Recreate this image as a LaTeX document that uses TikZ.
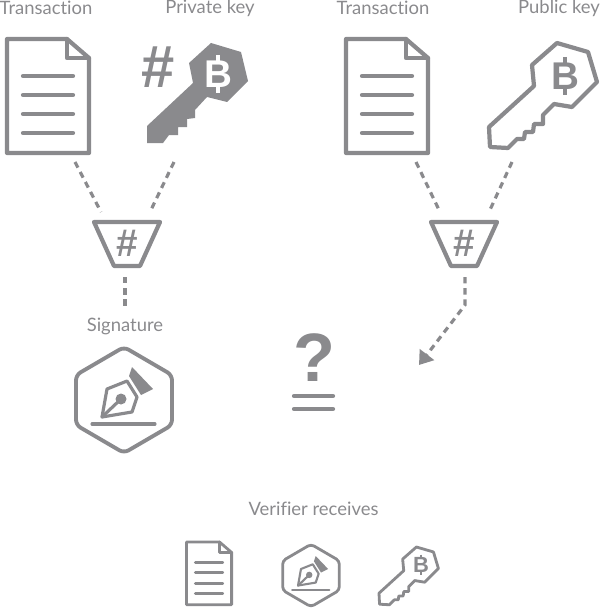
\documentclass[tikz,border=0pt]{standalone}
\usepackage{fontspec}
\setmainfont{Lato}[Ligatures=CommonOff]
\newfontfamily\iconfont{Liberation Sans}
\usetikzlibrary{arrows.meta}
\definecolor{icongray}{HTML}{8A8A8D}
\tikzset{
    label/.style={text=icongray, font=\fontsize{10.5pt}{12pt}\selectfont},
    outline/.style={draw=icongray, line width=#1, line join=round, line cap=round},
    outline/.default=2.4pt,
    link/.style={draw=icongray, line width=1.8pt, dash pattern=on 3.6pt off 2.8pt},
    hash/.style={text=icongray, inner sep=0pt, font=\iconfont\bfseries\fontsize{#1}{#1}\selectfont},
    pics/coin/.style n args={3}{code={
        \node[text=#1, inner sep=0pt, font=\iconfont\bfseries\fontsize{#2}{#2}\selectfont] (-b) at (0,0) {B};
        \draw[#1, line width=#3] (0,-19) -- (0,-13) (0,13) -- (0,19);
    }},
    pics/docicon/.style={code={
        \draw[outline=#1] (0,0) -- (60,0) -- (82,19) -- (82,114) -- (0,114) -- cycle;
        \draw[outline=#1] (60,0) -- (60,19) -- (82,19);
        \foreach \y in {37,56,75,94}
            \draw[outline=#1] (16,\y) -- (66,\y);
    }},
    pics/pubkey/.style={code={
        \draw[outline=#1] (68,0) -- (99,9) -- (108,39) -- (83,64) -- (65,61) -- (54,72) -- (54,81) -- (45,81) -- (44,89) -- (36,89) -- (35,96) -- (28,96) -- (19,105) -- (1,104) -- (0,84) -- (45,43) -- (43,22) -- cycle;
    }},
    pics/penhex/.style n args={3}{code={
        \draw[outline=#1, rounded corners=#3] (0,-53) -- (48,-25) -- (48,25) -- (0,53) -- (-48,25) -- (-48,-25) -- cycle;
        \fill[icongray] (8,-33) -- (29,-11) -- (17,-5) -- (5,-24) -- cycle;
        \draw[outline=#2] (-22,17) -- (-17,-11) -- (3,-19) -- (13,-3) -- (8,12) -- cycle;
        \draw[outline=#2] (-22,17) -- (-3,-1);
        \fill[icongray] (-3,-1) circle (5.5);
        \draw[outline=#2] (-32,24) -- (31,24);
    }},
    pics/funnel/.style={code={
        \draw[outline] (-33,-22) -- (33,-22) -- (13,22) -- (-13,22) -- cycle;
        \node[hash=22pt] (-h) at (0,-1) {\#};
    }}
}
\begin{document}
\begin{tikzpicture}[x=0.02cm, y=-0.02cm]
    \useasboundingbox (0,0) rectangle (600,608);

    \node[label] (txA) at (46,8) {Transaction};
    \node[label] (privkey) at (210,8) {Private key};
    \node[label] (txB) at (383,8) {Transaction};
    \node[label] (pubkey) at (559,8) {Public key};
    \node[label] (signature) at (125,326) {Signature};
    \node[label] (verifier) at (313.5,509) {Verifier receives};

    \pic at (7,39) {docicon=2.4pt};
    \pic at (346,39) {docicon=2.4pt};

    % signing key, filled
    \fill[icongray] (211,43) -- (241,52) -- (248,81) -- (227,102) -- (207,97) -- (195,110) -- (195,118) -- (187,119) -- (187,127) -- (178,127) -- (178,135) -- (169,135) -- (163,143) -- (147,143) -- (147,126) -- (193,83) -- (189,63) -- cycle;
    \pic at (218,74) {coin={white}{22pt}{2pt}};
    \node[hash=34pt] (hashkey) at (158,67) {\#};

    \pic at (489,43) {pubkey=2.4pt};
    \pic at (565,76) {coin={icongray}{22pt}{2pt}};

    \pic (funA) at (127,244) {funnel};
    \pic (funB) at (464,244) {funnel};
    \pic at (124,400) {penhex={2.2pt}{1.8pt}{3pt}};

    \coordinate (docAout) at (75,162);
    \coordinate (keyAout) at (174,162);
    \coordinate (funAinl) at (101,212);
    \coordinate (funAinr) at (150,212);
    \coordinate (funAout) at (125,277);
    \coordinate (sigin) at (125,306);
    \coordinate (docBout) at (416,162);
    \coordinate (keyBout) at (512,162);
    \coordinate (funBinl) at (440,212);
    \coordinate (funBinr) at (489,212);
    \coordinate (funBout) at (465,277);
    \coordinate (bend) at (465,305);
    \coordinate (checkin) at (419,365);

    \draw[link] (docAout) -- (funAinl);
    \draw[link] (keyAout) -- (funAinr);
    \draw[link] (funAout) -- (sigin);
    \draw[link] (docBout) -- (funBinl);
    \draw[link] (keyBout) -- (funBinr);
    \draw[link, -{Triangle[length=7.5pt, width=10pt, fill=icongray]}] (funBout) -- (bend) -- (checkin);

    % question over equals
    \node[text=icongray, inner sep=0pt, font=\iconfont\bfseries\fontsize{39pt}{39pt}\selectfont] (ask) at (314,358) {?};
    \draw[outline] (294,396) -- (333,396);
    \draw[outline] (294,409) -- (333,409);

    \pic[scale=0.55] at (186.5,542) {docicon=1.6pt};
    \pic[scale=0.59] at (311,575.5) {penhex={1.6pt}{1.2pt}{2pt}};
    \pic[scale=0.55] at (379,547) {pubkey=1.6pt};
    \pic[scale=0.55] at (421,565) {coin={icongray}{12.5pt}{1.2pt}};
\end{tikzpicture}
\end{document}
